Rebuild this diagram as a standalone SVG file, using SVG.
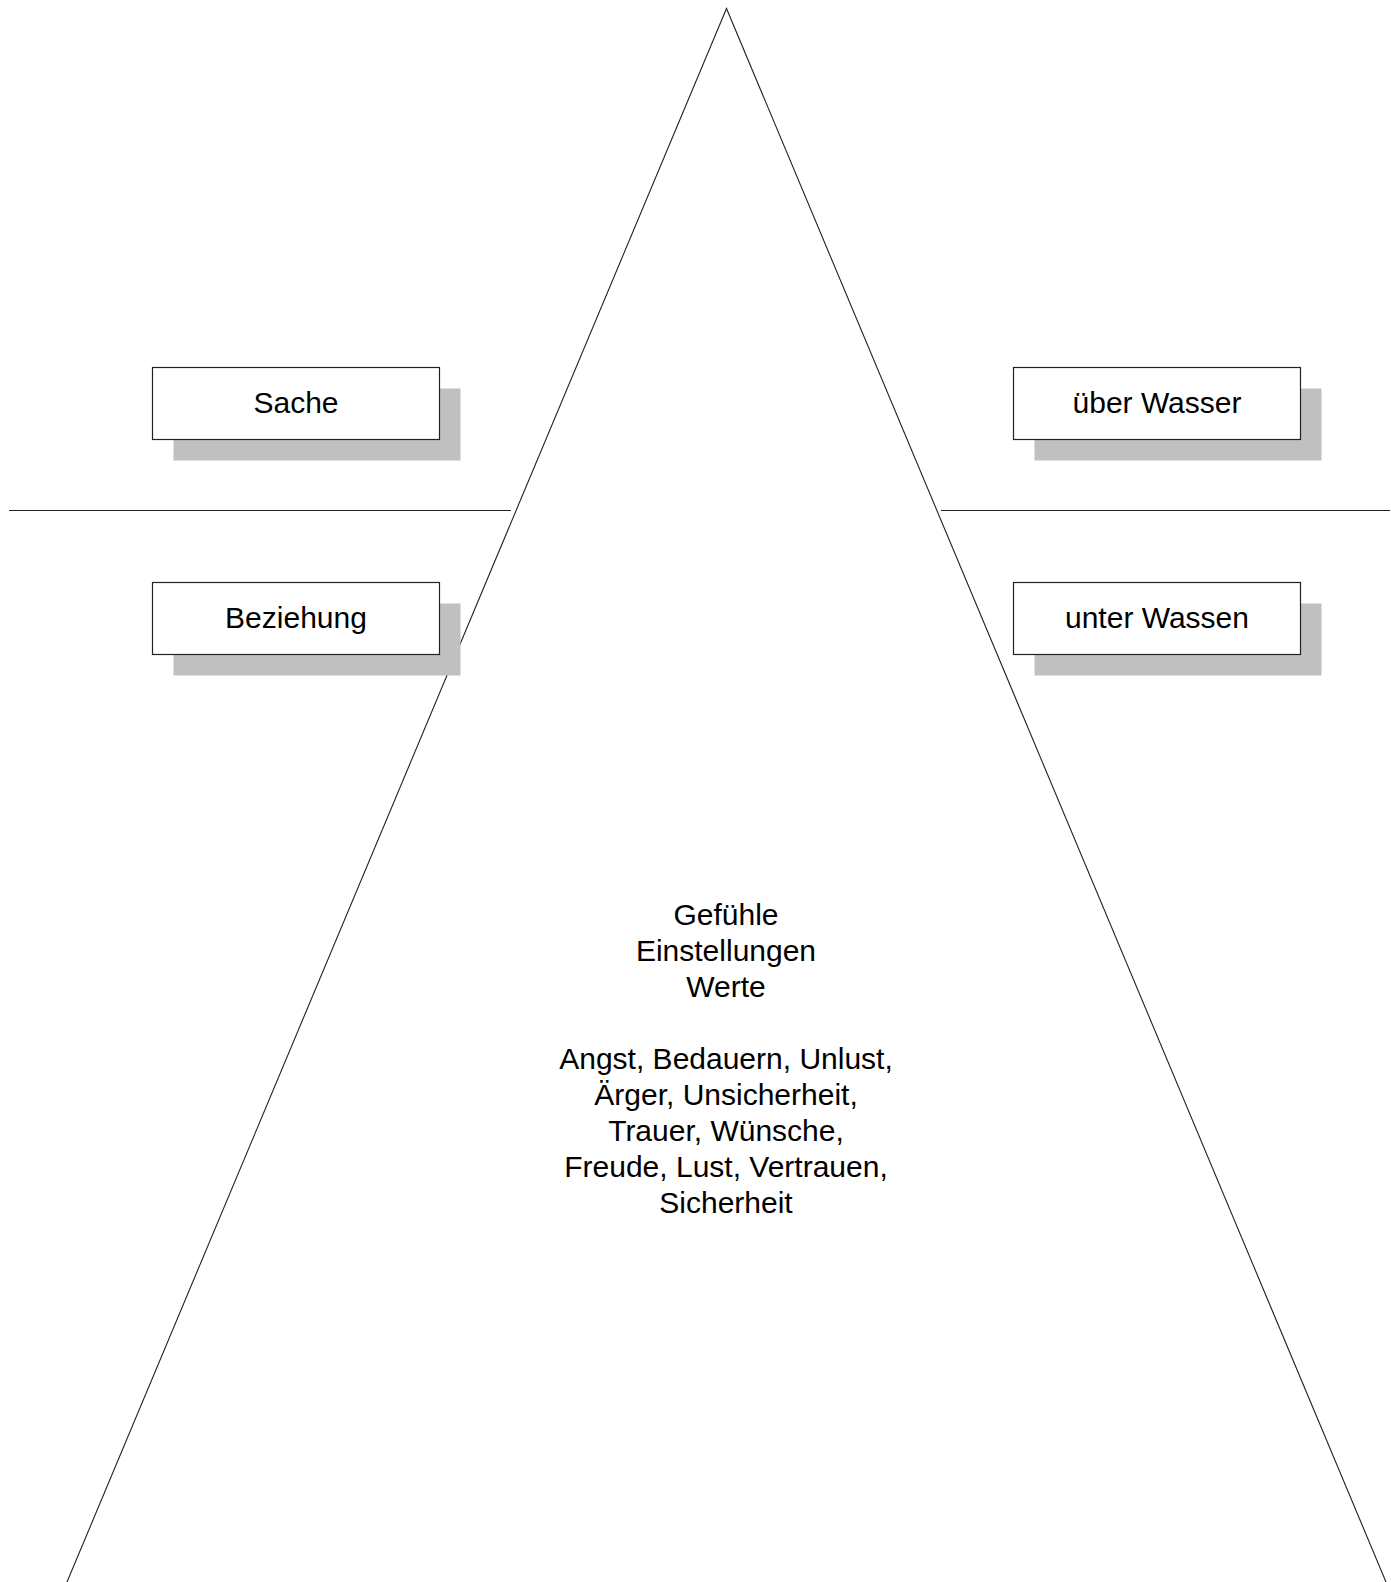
<svg xmlns="http://www.w3.org/2000/svg" width="1391" height="1582" viewBox="0 0 1391 1582">
<style>
.shadow{fill:#c0c0c0;stroke:none}
.box{fill:#ffffff;stroke:#222;stroke-width:1.2}
.lbl{font-family:"Liberation Sans",Arial,sans-serif;font-size:30px;fill:#000;text-anchor:middle}
.ln{fill:none;stroke:#222;stroke-width:1.1}
</style>
<rect width="1391" height="1582" fill="#ffffff"/>
<g id="connectors">
<polyline class="ln" points="67,1582 726.5,8.5 1386,1582"/>
<line class="ln" x1="9" y1="510.5" x2="511" y2="510.5"/>
<line class="ln" x1="941" y1="510.5" x2="1390" y2="510.5"/>
</g>
<g id="sache">
<rect class="shadow" x="173.5" y="388.5" width="287" height="72"/>
<rect class="box" x="152.5" y="367.5" width="287" height="72"/>
<text class="lbl" x="296" y="413">Sache</text>
</g>
<g id="beziehung">
<rect class="shadow" x="173.5" y="603.5" width="287" height="72"/>
<rect class="box" x="152.5" y="582.5" width="287" height="72"/>
<text class="lbl" x="296" y="628">Beziehung</text>
</g>
<g id="ueber-wasser">
<rect class="shadow" x="1034.5" y="388.5" width="287" height="72"/>
<rect class="box" x="1013.5" y="367.5" width="287" height="72"/>
<text class="lbl" x="1157" y="413">über Wasser</text>
</g>
<g id="unter-wassen">
<rect class="shadow" x="1034.5" y="603.5" width="287" height="72"/>
<rect class="box" x="1013.5" y="582.5" width="287" height="72"/>
<text class="lbl" x="1157" y="628">unter Wassen</text>
</g>
<g id="inhalt">
<text class="lbl" x="726" y="924.5">Gefühle</text>
<text class="lbl" x="726" y="960.5">Einstellungen</text>
<text class="lbl" x="726" y="996.5">Werte</text>
<text class="lbl" x="726" y="1068.5">Angst, Bedauern, Unlust,</text>
<text class="lbl" x="726" y="1104.5">Ärger, Unsicherheit,</text>
<text class="lbl" x="726" y="1140.5">Trauer, Wünsche,</text>
<text class="lbl" x="726" y="1176.5">Freude, Lust, Vertrauen,</text>
<text class="lbl" x="726" y="1212.5">Sicherheit</text>
</g>
</svg>
